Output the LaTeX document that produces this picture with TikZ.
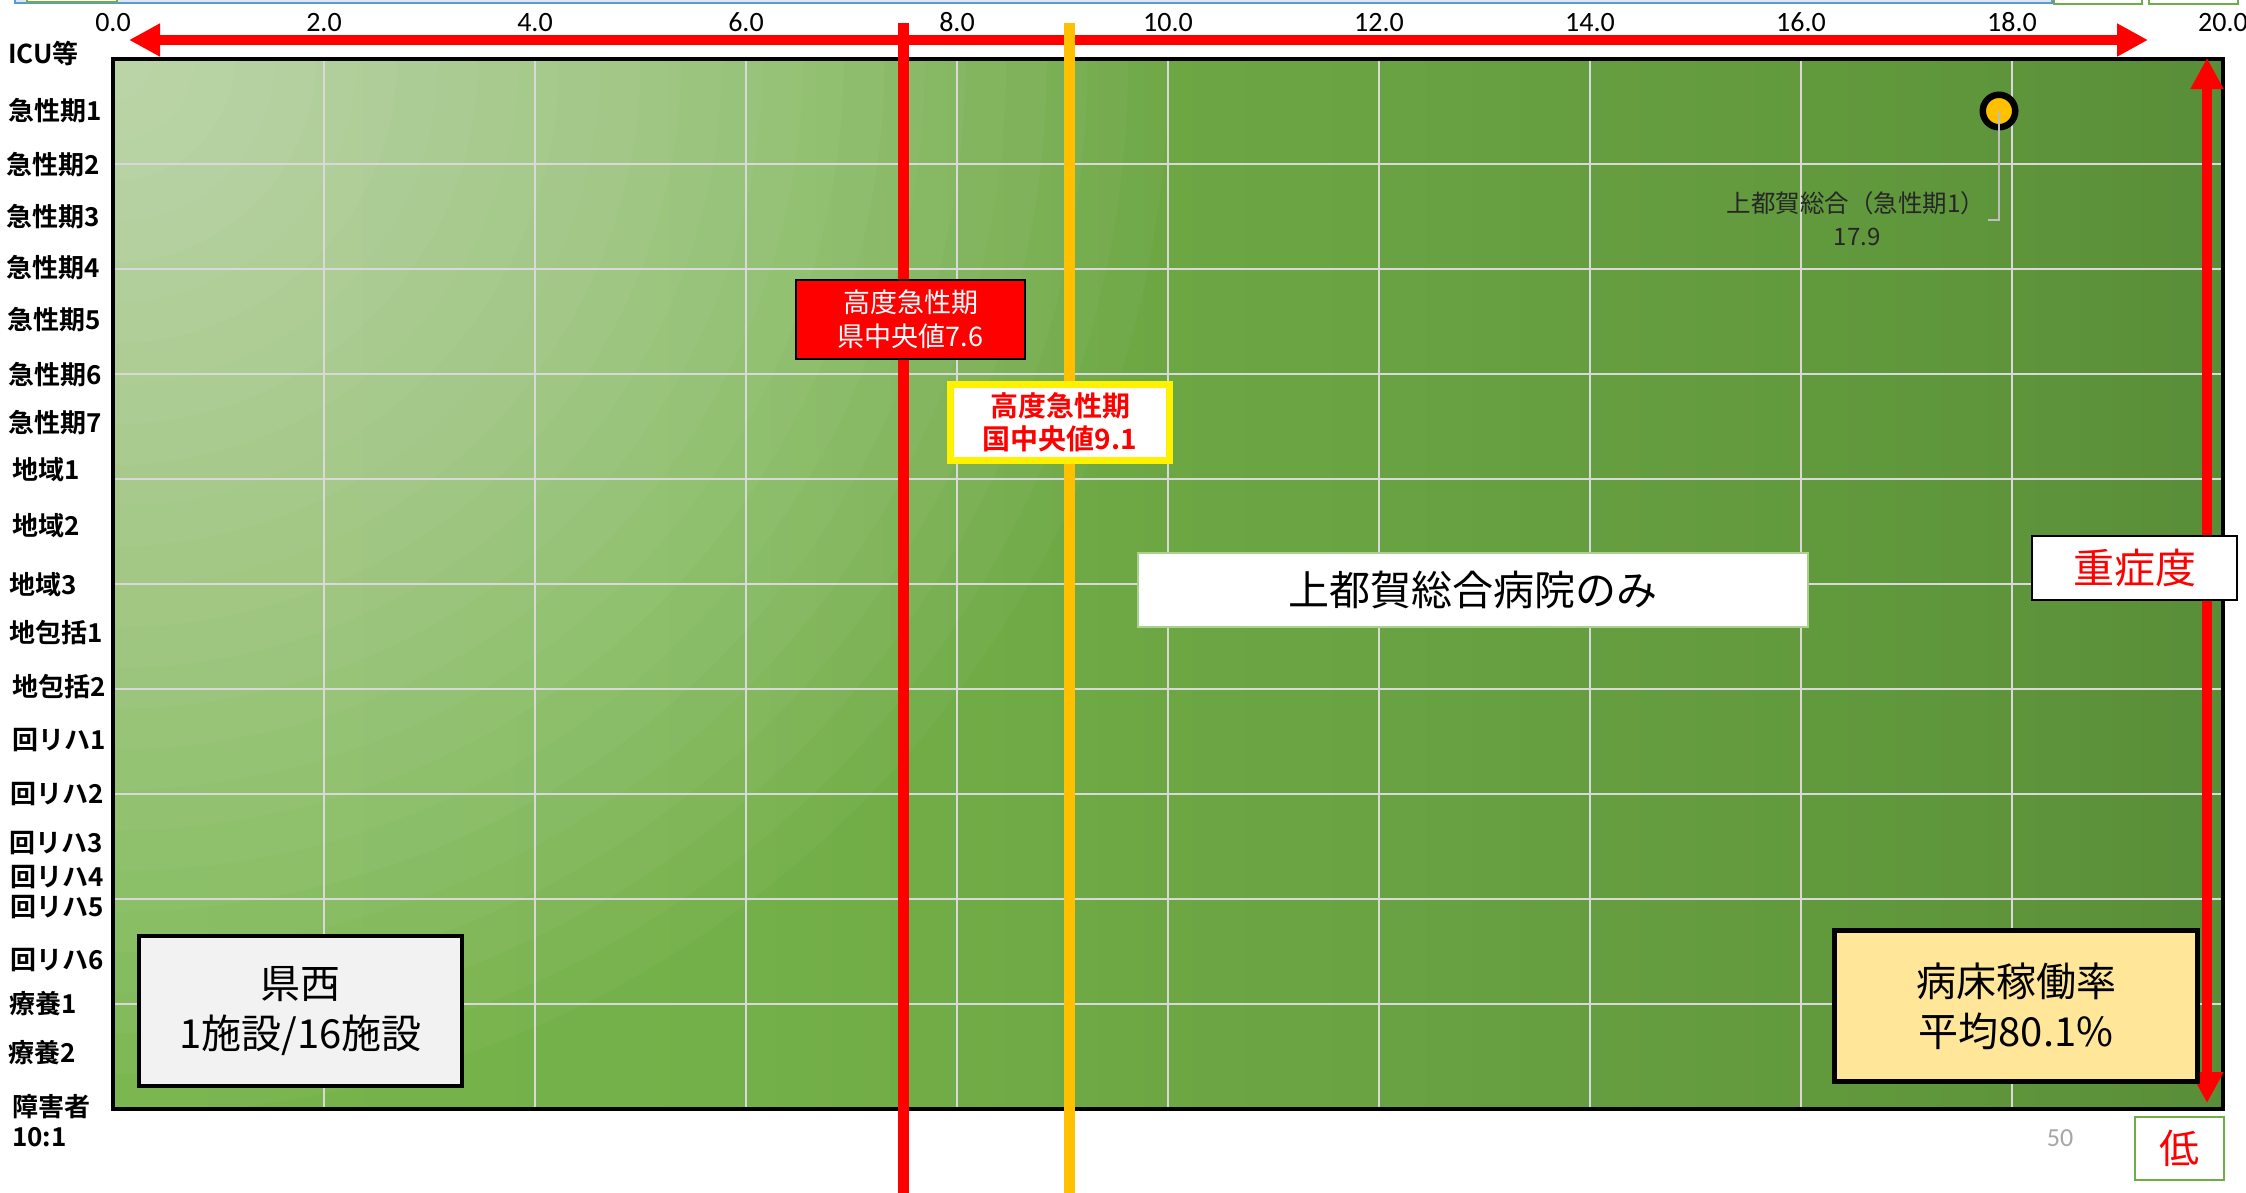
\documentclass[tikz,border=0pt]{standalone}
\usepackage{fontspec}
\newfontfamily\jpfont{Noto Sans CJK JP}[BoldFont={Noto Sans CJK JP Bold}]
\newfontfamily\calfont{Carlito}
\usetikzlibrary{arrows.meta}
\definecolor{gA}{HTML}{7FBB52}
\definecolor{gB}{HTML}{74B049}
\definecolor{gC}{HTML}{5E953B}
\definecolor{gD}{HTML}{42692A}
\definecolor{gridgray}{HTML}{D9D9D9}
\definecolor{dotyel}{HTML}{FFC000}
\definecolor{orng}{HTML}{FFC000}
\definecolor{paleyel}{HTML}{FFE699}
\definecolor{boxgray}{HTML}{F2F2F2}
\definecolor{xlgreen}{HTML}{70AD47}
\definecolor{boxgreen}{HTML}{A9D18E}
\definecolor{stripblue}{HTML}{5B9BD5}
\definecolor{stripfill}{HTML}{DEE6F1}
\definecolor{leadgray}{HTML}{BFBFBF}
\definecolor{labgray}{HTML}{262626}
\definecolor{numgray}{HTML}{A6A6A6}
\definecolor{arrred}{HTML}{FF0000}
\pgfdeclarehorizontalshading{plotbg}{100bp}{color(0bp)=(gA); color(40bp)=(gB); color(70bp)=(gC); color(100bp)=(gD)}
\begin{document}
\begin{tikzpicture}[x=1pt,y=-1pt,
  catlab/.style={anchor=west, inner sep=0pt, font=\jpfont\bfseries\fontsize{26}{26}\selectfont},
  axlab/.style={inner sep=0pt, font=\calfont\fontsize{28}{28}\selectfont},
  gridln/.style={draw=gridgray, line width=1.75pt},
  bigarrow/.style={draw=arrred, line width=10pt, {Triangle[length=31pt,width=31pt]}-{Triangle[length=31pt,width=31pt]}},
  medline/.style={line width=11pt},
  box/.style={rectangle, inner sep=0pt, align=center, font=\jpfont\fontsize{40}{50}\selectfont},
  stripbox/.style={draw=xlgreen, fill=white, line width=1.5pt},
]
\useasboundingbox (0,0) rectangle (2246,1192);
\fill[white] (0,0) rectangle (2246,1192);
\clip (0,0) rectangle (2246,1192);

% top strip
\draw[stripblue, fill=stripfill, line width=1.5pt] (15,-10) rectangle (2052,3);
\draw[stripbox] (27,-10) rectangle (117,2);
\draw[stripbox] (2054,-10) rectangle (2142,4);
\draw[stripbox] (2149,-10) rectangle (2238,4);

% plot background
\shade[shading=plotbg] (113,59) rectangle (2223,1109);
\begin{scope}
  \clip (113,59) rectangle (2223,1109);
  \foreach \k in {1,...,26} { \fill[white, opacity=0.032] (113,59) circle ({\k*40.6}); }
\end{scope}

% grid
\foreach \i in {1,...,9} {
  \draw[gridln] ({113+211*\i},59) -- ({113+211*\i},1109);
  \draw[gridln] (113,{59+105*\i}) -- (2223,{59+105*\i});
}
\draw[line width=3.5pt] (113,59) rectangle (2223,1109);

% top axis labels
\foreach \v in {0,2,...,20} { \node[axlab] (ax\v) at ({113+105.5*\v},22.5) {\v.0}; }

% category labels
\foreach \lx/\ly/\t/\n in {
  8/53/ICU等/c0, 8/111/急性期1/c1, 6/165/急性期2/c2, 6/217/急性期3/c3, 6/268/急性期4/c4,
  7/320/急性期5/c5, 8/375/急性期6/c6, 8/423/急性期7/c7, 12/470/地域1/c8, 12/526/地域2/c9,
  9/585/地域3/c10, 9/633/地包括1/c11, 12/687/地包括2/c12, 12/740/回リハ1/c13, 10/794/回リハ2/c14,
  9/843/回リハ3/c15, 10/877/回リハ4/c16, 10/907/回リハ5/c17, 10/960/回リハ6/c18, 9/1004/療養1/c19,
  8/1053/療養2/c20, 12/1107/障害者/c21, 12/1137/10:1/c22} {
  \node[catlab] (\n) at (\lx,\ly) {\t};
}

% arrows
\coordinate (hl) at (129,40); \coordinate (hr) at (2148,40);
\draw[bigarrow] (hl) -- (hr);
\coordinate (vt) at (2207,58); \coordinate (vb) at (2207,1103);
\draw[bigarrow] (vt) -- (vb);

% median lines
\coordinate (rt) at (903,23); \coordinate (rb) at (903,1200);
\draw[medline, draw=arrred] (rt) -- (rb);
\coordinate (ot) at (1069,23); \coordinate (ob) at (1069,1200);
\draw[medline, draw=orng] (ot) -- (ob);

% boxes
\node[box, draw=black, fill=arrred, line width=2pt, minimum width=229pt, minimum height=79pt, text=white, font=\jpfont\fontsize{27}{34}\selectfont] (pref) at (910.5,319.5) {高度急性期\\県中央値7.6};
\node[box, draw=yellow, fill=white, line width=7pt, minimum width=219pt, minimum height=76pt, text=arrred, font=\jpfont\bfseries\fontsize{28}{33}\selectfont] (natl) at (1060,422.5) {高度急性期\\国中央値9.1};
\node[box, draw=boxgreen, fill=white, line width=2pt, minimum width=670pt, minimum height=74pt, font=\jpfont\fontsize{41}{41}\selectfont] (only) at (1473,590) {上都賀総合病院のみ};
\node[box, draw=black, fill=white, line width=2.5pt, minimum width=205pt, minimum height=64pt, text=arrred, font=\jpfont\fontsize{41}{41}\selectfont] (sev) at (2134.5,568) {重症度};
\node[box, draw=black, fill=boxgray, line width=3.5pt, minimum width=323pt, minimum height=150pt] (west) at (300.5,1011) {県西\\1施設/16施設};
\node[box, draw=black, fill=paleyel, line width=5pt, minimum width=363pt, minimum height=151pt] (rate) at (2016,1006) {病床稼働率\\平均80.1\%};
\node[box, draw=xlgreen, fill=white, line width=2pt, minimum width=89pt, minimum height=63pt, text=arrred, font=\jpfont\fontsize{40}{40}\selectfont] (low) at (2179.5,1148.5) {低};

% data point
\node[circle, draw=black, fill=dotyel, line width=6.5pt, minimum size=32.5pt, inner sep=0pt] (dot) at (1999,111) {};
\coordinate (ldk) at (1999,220); \coordinate (lde) at (1988,220);
\draw[leadgray, line width=1.5pt] (dot.center) -- (ldk) -- (lde);
\node[font=\jpfont\fontsize{24.5}{24.5}\selectfont, text=labgray, inner sep=0pt] (lab1) at (1856,203) {上都賀総合（急性期1）};
\node[font=\jpfont\fontsize{24}{24}\selectfont, text=labgray, inner sep=0pt] (lab2) at (1857,237) {17.9};
\node[font=\calfont\fontsize{26}{26}\selectfont, text=numgray, inner sep=0pt] (fifty) at (2060,1138) {50};
\end{tikzpicture}
\end{document}
